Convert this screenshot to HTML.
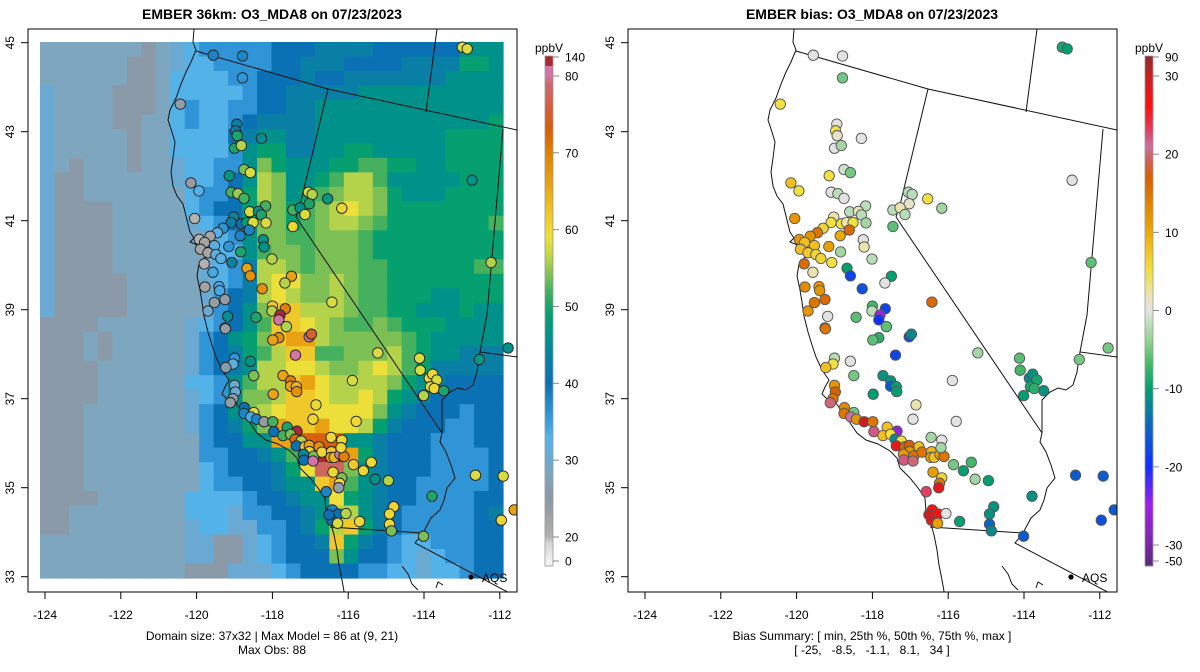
<!DOCTYPE html>
<html><head><meta charset="utf-8"><title>EMBER O3_MDA8</title>
<style>
html,body{margin:0;padding:0;background:#fff;}
svg{display:block;font-family:"Liberation Sans",sans-serif;}
text{fill:#000;}
</style></head>
<body>
<svg id="chart" width="1200" height="672" viewBox="0 0 1200 672" xmlns="http://www.w3.org/2000/svg">
<defs>
<clipPath id="clipL"><rect x="28" y="29" width="489" height="563"/></clipPath>
<clipPath id="clipR"><rect x="628" y="29" width="489" height="563"/></clipPath>
</defs>
<text x="272" y="19" text-anchor="middle" font-size="14" font-weight="bold">EMBER 36km: O3_MDA8 on 07/23/2023</text>
<text x="872" y="19" text-anchor="middle" font-size="14" font-weight="bold">EMBER bias: O3_MDA8 on 07/23/2023</text>
<g id="leftPanel"></g>
<g id="rightPanel"></g>
<text x="272" y="640" text-anchor="middle" font-size="12">Domain size: 37x32 | Max Model = 86 at (9, 21)</text>
<text x="272" y="654" text-anchor="middle" font-size="12">Max Obs: 88</text>
<text x="872" y="640" text-anchor="middle" font-size="12">Bias Summary: [ min, 25th %, 50th %, 75th %, max ]</text>
<text x="872" y="654" text-anchor="middle" font-size="12" xml:space="preserve">[ -25,   -8.5,   -1.1,   8.1,   34 ]</text>
</svg>
<script>
// ---- model grid data (rows north->south, 32 columns) ----
const levelCodes = ["a","b","c","d","e","f","g","h","i","j","k","l","m","n","o","p","q","r"];
const levelValues = [25.5,28,30,33,36,40,43,46,49,52,54,56,59,62,66,73,86,78];
const gridRows = [
"bbbbbbbabcdeeeeefffggggffffffhhh",
"bbbbbbaabcddeeeeffgggffffggggiih",
"bbbbbbaabddddeefffgffggggggghhhh",
"cbbbbaaabdddddeffggggghhhhhhhhhh",
"cbbbbaaabdeddeeffgghhhhhhhhhhhhh",
"cbbbbaabbdeddefgggghhhhhhhhhhhhi",
"cbbbbbabbddddfghhgghhhhhhhhhiiii",
"cbbbbbabbddddehiigghhiihhhhhiiii",
"cbabbbabbcddeehkihhhiijjiihhiiii",
"caabbbbbbcddefhlkhhijlljhhhhhiii",
"caabbbbbbbdeefilkhijkllkihhhiiii",
"caaaabbbbbdeffikkijklmlkiiiiiiii",
"caaaabbbbbcdefikkijkllkjiiiiiiij",
"caaaabbbbbbcdehkkjjkkkjiiiiiiiii",
"caaaabbbbbbbddhjkkjkkkjiiiiiiiii",
"caaaabbbbbbcdegllkjkkkjjiiiiiijj",
"caaaaabbbbbcdeglmmkklkjjiiiiiiii",
"caaaaabbbbbcefglmlkklkjjiiihhiii",
"caaaaabbbbbbefhknnlllkjjiihhhihh",
"aaaabbbbbbcdefhjnnmlkjjkjiiihhhh",
"aaababbbbbcefhiknoolkkkkkjihhhhh",
"aaababbbbbcefgijlnnjjkkkljihhggg",
"aaaabbbbbbcefghllmmlkklmljiggggg",
"aaaabbbbbbddehjllnomllllkihgffff",
"aaaabbbbbbcdehkklnnmllmlihgfffff",
"aaabbbbbbbcefhklmnnmmmmkhgfffeff",
"aaabbbbbbbcefgikonnommligfffeeff",
"aaabbbbbbbbeffhhooppphhgfffeeeff",
"aaabbbbbbbbeeffghjqqqoigfffeeeef",
"aaabbbbbbbbdefffgimrrkhgfffeeeef",
"aaabbbbbbbbdeeffghhnojhgffeeeeef",
"aaaabbbbbbddddeffghhmihgffeeeeff",
"aabbbbbbbbdddceeffghllhgfeeeeefg",
"aabbbbbbbbcddcceefgilnigfeeeeeff",
"bbbbbbbbbbccaacdeffgnigfeddeeeff",
"bbbbbbbbbbccaacdefffkhffedcdeeff",
"bbbbbbbbbbaaacccdeffffeeddcddeff"
];
// ---- observation sites ----
const siteLon = [-120.43,-118.94,-118.97,-118.93,-118.29,-119.00,-118.82,-119.14,-118.75,-118.58,
-120.15,-119.94,-119.09,-118.91,-118.75,-117.05,-116.95,-117.03,-116.54,-116.17,
-117.46,-117.27,-117.14,-117.46,-112.73,-112.23,-120.05,-118.18,-118.60,-118.37,
-118.29,-119.02,-119.09,-118.82,-118.68,-118.51,-118.61,-118.17,-119.30,-119.45,
-119.64,-119.93,-119.79,-119.53,-119.15,-118.85,-119.90,-119.70,-119.49,-119.36,
-118.84,-118.24,-118.22,-118.01,-119.07,-119.80,-119.57,-118.67,-118.58,-117.50,
-117.67,-118.27,-119.78,-119.41,-119.39,-119.25,-119.53,-119.70,-119.18,-118.43,
-118.00,-118.01,-117.66,-117.80,-117.83,-117.63,-116.43,-119.25,
-119.24,-117.83,-117.99,-117.63,-117.03,-116.97,-117.39,-115.22,-114.12,-114.10,-112.54,
-119.00,-119.04,-119.23,-118.58,-118.49,-117.72,-117.52,-117.52,-117.37,-117.36,-117.98,
-115.89,-113.86,-113.77,-113.66,-113.83,-113.73,-113.48,-114.01,-119.00,-118.98,
-119.04,-119.11,-118.74,-118.75,-118.49,-118.57,-118.42,-118.22,-117.99,-117.96,
-117.61,-117.35,-117.72,-117.52,-117.40,-117.24,-117.37,-117.14,-117.03,-117.02,
-117.18,-116.91,-117.17,-116.93,-116.77,-116.69,-116.44,-116.46,-116.37,-116.22,
-116.11,-116.45,-116.17,-116.19,-116.93,-116.85,-115.79,-115.86,-115.39,-115.60,
-115.29,-114.94,-116.40,-116.17,-116.23,-116.25,-116.58,-116.42,-116.26,-116.44,
-116.51,-116.06,-116.28,-115.70,-114.80,-114.91,-114.91,-114.86,-113.79,-112.64,
-114.01,
-119.56,-118.79,-118.79,-112.99,-112.86,-111.78,-111.91,-111.96,-111.62];
const siteLat = [43.62,43.17,43.02,42.91,42.85,42.63,42.69,42.01,42.15,42.08,
41.85,41.67,41.64,41.61,41.50,41.64,41.59,41.38,41.49,41.28,
41.24,41.29,41.14,40.87,41.91,40.06,41.05,41.33,41.20,41.21,
41.13,41.08,40.96,40.93,40.96,40.96,40.79,40.95,40.83,40.73,
40.65,40.58,40.51,40.44,40.42,40.66,40.36,40.28,40.24,40.15,
40.30,40.57,40.41,40.14,40.06,40.03,39.84,39.93,39.76,39.75,
39.60,39.47,39.51,39.52,39.43,39.23,39.16,38.97,38.85,38.83,
39.08,38.97,39.02,38.88,38.77,38.62,39.17,38.59,
38.57,38.37,38.32,38.62,38.39,38.45,37.98,38.03,37.91,37.64,37.88,
37.91,37.78,37.70,37.84,37.52,37.52,37.40,37.28,37.27,37.16,37.10,
37.41,37.46,37.55,37.42,37.27,37.23,37.18,37.07,37.30,37.15,
37.00,36.91,36.80,36.67,36.69,36.59,36.54,36.48,36.48,36.26,
36.36,36.27,36.17,36.20,36.09,36.05,35.94,35.92,35.95,35.81,
35.75,35.71,35.62,35.60,35.92,35.80,35.81,35.68,35.68,35.75,
35.70,36.13,36.07,35.90,36.54,36.86,36.49,35.52,35.57,35.38,
35.19,35.16,35.35,35.22,35.10,35.00,34.91,34.50,34.41,34.27,
34.39,34.42,34.20,34.24,34.57,34.41,34.18,34.03,34.81,35.28,
33.91,
44.72,44.70,44.21,44.90,44.86,38.14,35.26,34.27,34.50];
const siteObs = [24,43,42,50,45,50,56,47,54,58,
24,33,52,55,52,58,56,50,47,60,
52,46,58,60,46,56,20,52,58,46,
50,44,43,40,48,58,38,58,36,33,
22,20,22,32,36,38,22,22,32,32,
50,46,46,56,44,20,34,66,68,66,
56,68,22,34,34,24,24,30,45,50,
62,56,70,85,80,64,58,48,
24,68,66,56,82,75,80,58,58,58,47,
36,32,26,46,54,66,70,66,64,68,66,
58,60,60,58,58,60,50,56,30,30,
26,24,40,38,58,34,38,24,52,40,
50,86,52,54,72,56,40,62,66,60,
44,54,40,80,68,60,62,66,64,80,
70,60,60,60,60,60,60,62,60,60,
46,56,60,54,60,24,38,38,40,40,
40,56,58,60,60,60,60,54,50,58,
54,
38,38,36,58,58,46,58,60,66];
const siteBias = [5,0,5,1,0,0,-3,5,-1,-5,
8,5,0,-2,0,-2,-2,1,5,-3,
-2,2,-2,-6,0,-6,12,-2,-2,2,
-2,2,5,5,2,5,16,-3,6,15,
12,12,8,8,11,10,8,7,6,6,
-3,0,2,-2,5,16,2,-10,-18,-10,
0,-17,13,12,12,16,15,12,0,-6,
-7,-2,-18,-25,-20,-6,16,15,
15,-8,-6,-6,-17,-12,-18,-3,-6,-7,-5,
-2,5,8,0,-5,-11,-11,-16,-10,-10,-10,
0,-12,-11,-9,-9,-8,-11,-10,12,17,
15,20,13,15,-5,21,12,30,15,22,
8,-26,8,5,-12,5,28,16,17,12,
12,15,22,20,8,15,9,11,8,11,
15,-3,0,-3,0,2,0,-5,-7,-10,
-3,-10,11,6,15,28,23,26,26,26,
30,0,11,-10,-11,-11,-15,-12,-11,-16,
-16,
0,0,-5,-9,-10,-5,-16,-17,-16];
// tick labels
const lonTicks = [-124,-122,-120,-118,-116,-114,-112];
const latTicks = [45,43,41,39,37,35,33];
const obsBarTicks = [0,20,30,40,50,60,70,80,140];
const biasBarTicks = [-50,-30,-20,-10,0,10,20,30,90];

// ---- scales ----
function xScale(lon){ return 45 + (lon + 124) * 37.9; }
function yScale(lat){ return 42.7 + (45 - lat) * 44.5; }
function piece(pts, v){
  for (let i=0;i<pts.length-1;i++){
    const a=pts[i], b=pts[i+1];
    if (v<=b[0] || i===pts.length-2){ const t=(v-a[0])/(b[0]-a[0]); return a[1]+t*(b[1]-a[1]); }
  }
}
const obsBarMap = [[0,561],[20,537],[80,76],[84,66],[140,57]];
const biasBarMap = [[-50,561],[-30,545],[30,76],[31,66],[90,57]];
function invPiece(pts, y){
  const inv = pts.map(p=>[p[1],p[0]]).sort((a,b)=>a[0]-b[0]);
  if (y<=inv[0][0]) return inv[0][1];
  if (y>=inv[inv.length-1][0]) return inv[inv.length-1][1];
  return piece(inv, y);
}
function hex(c){ return [parseInt(c.substr(1,2),16),parseInt(c.substr(3,2),16),parseInt(c.substr(5,2),16)]; }
function cmap(stops, v){
  if (v<=stops[0][0]) return stops[0][1];
  if (v>=stops[stops.length-1][0]) return stops[stops.length-1][1];
  for (let i=0;i<stops.length-1;i++){
    if (v>=stops[i][0] && v<=stops[i+1][0]){
      const t=(v-stops[i][0])/(stops[i+1][0]-stops[i][0]);
      const a=hex(stops[i][1]), b=hex(stops[i+1][1]);
      return 'rgb('+a.map((x,k)=>Math.round(x+t*(b[k]-x))).join(',')+')';
    }
  }
}
const obsStops = [[0,'#f2f2f2'],[15,'#d4d4d4'],[22,'#a5a5a5'],[25,'#8c98a4'],[28,'#7ea6be'],[30,'#6aaad2'],[33,'#53b2e8'],[36,'#2f95d6'],[40,'#0a72b4'],[43,'#0a7fa5'],[46,'#00928a'],[49,'#06a070'],[52,'#45b05e'],[54,'#7cbf55'],[56,'#b4d24a'],[59,'#ecdf3a'],[62,'#f0c82c'],[66,'#e8a214'],[70,'#e08000'],[73,'#d86008'],[76,'#d06040'],[79,'#cc6a70'],[80,'#d075a5'],[83.9,'#d075a5'],[84,'#b02838'],[140,'#a82828']];
const biasStops = [[-50,'#5a2a80'],[-30,'#7a28a8'],[-25,'#a020e8'],[-20,'#1030ff'],[-16,'#0a5ad0'],[-13,'#0a7aa0'],[-10,'#00a070'],[-7,'#40b868'],[-4,'#90d090'],[-1,'#cde2cd'],[0,'#e2e2e2'],[2,'#ece4b0'],[5,'#f0e040'],[8,'#f0c020'],[11,'#e8a000'],[14,'#e08000'],[17,'#d86000'],[19,'#d06050'],[21,'#c870a0'],[23,'#e04060'],[26,'#ff1010'],[30,'#c82020'],[31,'#a82828'],[90,'#902828']];

const NS='http://www.w3.org/2000/svg';
function mk(tag, attrs, parent){
  const e=document.createElementNS(NS,tag);
  for (const k in attrs) e.setAttribute(k, attrs[k]);
  parent.appendChild(e); return e;
}
const outlines = [
 [[194,29],[193,42],[196,50],[191,62],[186,72],[181,84],[176,98],[170,110],[168,120],[172,132],[175,142],[173,158],[171,172],[173,186],[177,196],[183,204],[186,216],[190,232],[194,238],[190,242],[195,244],[200,246],[206,250],[209,256],[204,258],[199,264],[197,276],[200,290],[202,302],[204,316],[208,332],[212,345],[216,357],[222,370],[229,380],[225,387],[222,394],[228,400],[236,403],[242,412],[248,420],[257,433],[266,440],[278,444],[290,451],[297,458],[300,468],[310,478],[318,488],[325,498],[326,512],[331,524],[334,535],[337,550],[339,565],[342,580],[345,597]],
 [[200,246],[210,248],[218,252],[225,256]],
 [[196,51],[328,89],[517,130]],
 [[437,29],[426,112]],
 [[328,89],[300,205],[296,217]],
 [[296,217],[442,433]],
 [[442,433],[440,442],[446,452],[451,465],[455,478],[447,488],[444,500],[440,510],[431,518],[423,533]],
 [[330,527],[423,533],[415,543],[517,597]],
 [[503,129],[487,315],[480,352],[517,357]],
 [[480,352],[477,372],[473,385],[466,390],[458,388],[450,392],[442,400],[442,433]],
 [[402,566],[408,574],[412,584],[418,590]],
 [[436,588],[438,582],[443,585]]
];

function drawPanel(root, off, isBias){
  const clip = isBias ? 'url(#clipR)' : 'url(#clipL)';
  const plot = mk('g', {'clip-path':clip}, root);
  
  
  if (!isBias){
    const cw=463/32, ch=536/37;
    gridRows.forEach((row, r)=>{
      for (let c=0;c<row.length;c++){
        const v = levelValues[levelCodes.indexOf(row[c])];
        const cell = mk('rect', {x:(40+c*cw).toFixed(2), y:(42+r*ch).toFixed(2), width:(cw+0.6).toFixed(2), height:(ch+0.6).toFixed(2), fill:cmap(obsStops, v)}, plot);
        
        
      }
    });
  }
  outlines.forEach(line=>{
    const pl = mk('polyline', {points: line.map(p=>(p[0]+off)+','+p[1]).join(' '), fill:'none', stroke:'#111', 'stroke-width':'1'}, plot);
    
    
  });
  for (let i=0;i<siteLon.length;i++){
    const v = isBias ? siteBias[i] : siteObs[i];
    const pt = mk('circle', {cx:(xScale(siteLon[i])+off).toFixed(1), cy:yScale(siteLat[i]).toFixed(1), r:'5.2', fill: cmap(isBias?biasStops:obsStops, v), stroke: isBias?'#555':'#222', 'stroke-width':'0.9'}, plot);
    
    
  }
  const aq = mk('circle', {cx:471+off, cy:577, r:2.6, fill:'#000'}, root);
  
  
  const aqt = mk('text', {x:482+off, y:582, 'font-size':12}, root);
  aqt.textContent='AQS';
  
  
  const box = mk('rect', {x:28+off, y:29, width:489, height:563, fill:'none', stroke:'#000', 'stroke-width':'1'}, root);
  
  
  lonTicks.forEach(t=>{
    const x = xScale(t)+off;
    const tk = mk('line', {x1:x, x2:x, y1:592, y2:599, stroke:'#000'}, root);
    
    
    const lb = mk('text', {x:x, y:619, 'text-anchor':'middle', 'font-size':12}, root);
    lb.textContent = t;
    
    
  });
  latTicks.forEach(t=>{
    const y = yScale(t);
    const tk = mk('line', {x1:21+off, x2:28+off, y1:y, y2:y, stroke:'#000'}, root);
    
    
    const lb = mk('text', {x:0, y:0, 'text-anchor':'middle', 'font-size':12, transform:'translate('+(14+off)+','+y+') rotate(-90)'}, root);
    lb.textContent = t;
    
    
  });
  const bx = 545+off, map = isBias?biasBarMap:obsBarMap, stops = isBias?biasStops:obsStops;
  const cb = mk('g', {}, root);
  
  
  for (let y=56; y<566; y+=2){
    const v = invPiece(map, y+1);
    mk('rect', {x:bx, y:y, width:8, height:2.4, fill:cmap(stops, v)}, cb);
  }
  mk('rect', {x:bx, y:56, width:8, height:510, fill:'none', stroke:'#999', 'stroke-width':'0.8'}, cb);
  (isBias?biasBarTicks:obsBarTicks).forEach(t=>{
    const y = piece(map, t);
    const tk = mk('line', {x1:bx+8, x2:bx+14, y1:y, y2:y, stroke:'#888'}, cb);
    
    
    const lb = mk('text', {x:bx+20, y:y+4.5, 'font-size':12}, cb);
    lb.textContent = t;
    
    
  });
  const unit = mk('text', {x:bx+4, y:52, 'text-anchor':'middle', 'font-size':12}, cb);
  unit.textContent = 'ppbV';
  
  
}
drawPanel(document.getElementById('leftPanel'), 0, false);
drawPanel(document.getElementById('rightPanel'), 600, true);
</script>
</body></html>
